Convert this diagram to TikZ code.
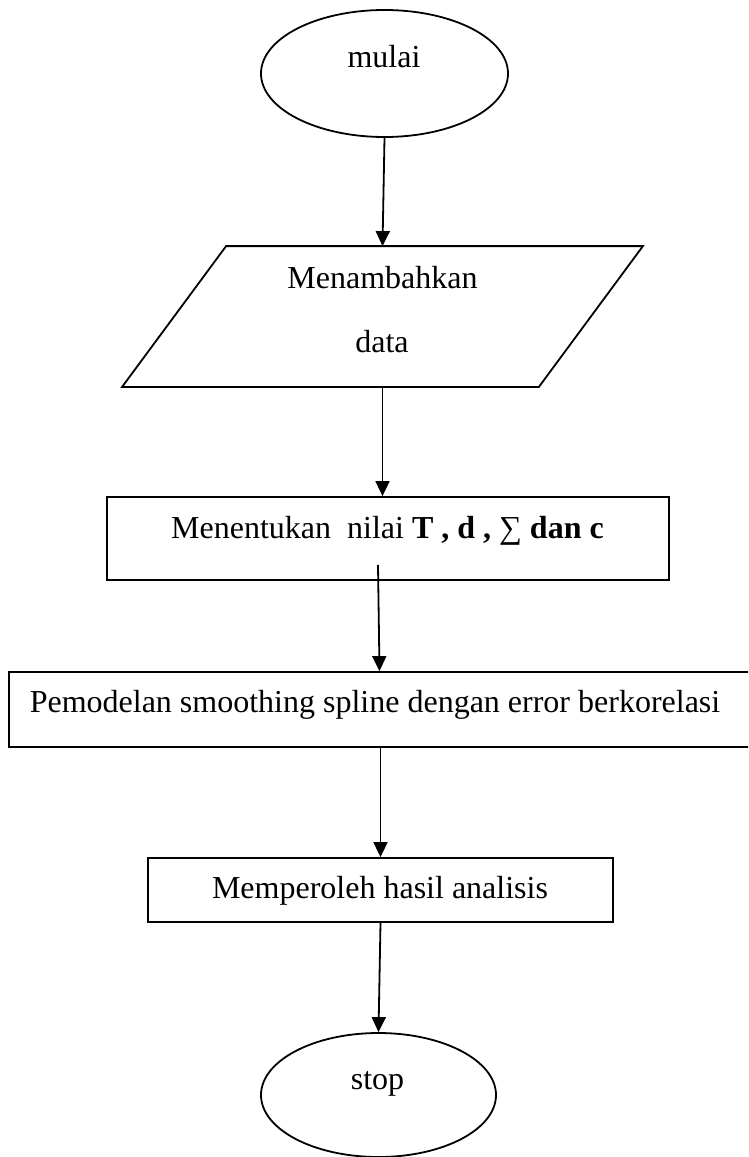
\documentclass[tikz,border=0pt]{standalone}
\usepackage{fontspec}
\setmainfont{Liberation Serif}
\usetikzlibrary{arrows.meta,shapes.geometric}
\begin{document}
\begin{tikzpicture}[x=1pt,y=-1pt,line width=1.8pt,
  term/.style={draw,ellipse,inner sep=0pt,minimum width=247pt,minimum height=127pt},
  box/.style={draw,rectangle,inner sep=0pt},
  frame/.style={rectangle,inner sep=0pt},
  txt/.style={anchor=base,inner sep=0pt,font=\fontsize{32}{38}\selectfont},
  arr/.style={-{Triangle[length=15pt,width=14pt]}}]
\path[use as bounding box] (0,0) rectangle (748,1157);
\clip (0,0) rectangle (748,1157);
% start
\node[term] (start) at (384.5,73.5) {};
\node[txt] (tstart) at (384,67) {mulai};
% input parallelogram
\node[frame,minimum width=415pt,minimum height=139pt] (inp) at (382.5,316.5) {};
\draw ([xshift=52pt]inp.north west) -- ([xshift=52pt]inp.north east) -- ([xshift=-52pt]inp.south east) -- ([xshift=-52pt]inp.south west) -- cycle;
\node[txt] (tinp1) at (382.5,288) {Menambahkan};
\node[txt] (tinp2) at (382,352) {data};
% box 1
\node[box,minimum width=562pt,minimum height=83pt] (b1) at (388,538.5) {};
\node[txt] (tb1) at (387.5,538) {Menentukan\ \ nilai \textbf{T , d ,} ∑ \textbf{dan c}};
% box 2
\node[box,minimum width=747pt,minimum height=75pt] (b2) at (382.5,709.5) {};
\node[txt] (tb2) at (375,712) {Pemodelan smoothing spline dengan error berkorelasi};
% box 3
\node[box,minimum width=465pt,minimum height=64pt] (b3) at (380.5,890) {};
\node[txt] (tb3) at (380,898) {Memperoleh hasil analisis};
% stop
\node[term,minimum width=235pt,minimum height=124pt] (stop) at (378.5,1095) {};
\node[txt] (tstop) at (377.5,1089) {stop};
% connectors
\draw[arr] (start.south) -- (inp.north);
\draw[arr] (inp.south) -- (inp.south |- b1.north);
\draw[arr] ([xshift=-10pt,yshift=16pt]b1.south) -- ([xshift=-3pt]b2.north);
\draw[arr] (b3.north |- b2.south) -- (b3.north);
\draw[arr] (b3.south) -- (stop.north);
\end{tikzpicture}
\end{document}
